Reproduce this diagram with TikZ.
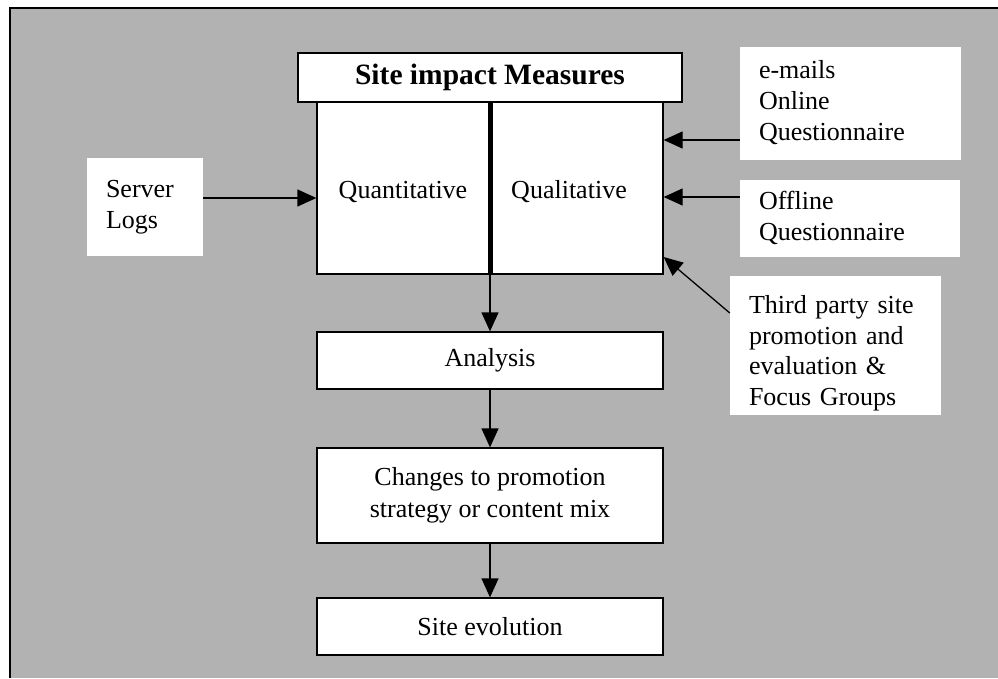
\documentclass[tikz,border=0pt]{standalone}
\usepackage{fontspec}
\setmainfont{Liberation Serif}
\usetikzlibrary{arrows.meta}
\definecolor{bggray}{RGB}{178,178,178}
\begin{document}
\begin{tikzpicture}[x=1pt,y=-1pt,
  box/.style={draw=black, line width=1.3pt, fill=white, inner sep=0pt},
  plain/.style={fill=white, inner sep=0pt},
  txt/.style={font=\fontsize{26}{30.5}\selectfont},
  arr/.style={line width=1.3pt, -{Triangle[length=19pt,width=17pt]}}]
\useasboundingbox (0,0) rectangle (998,678);
\fill[bggray] (10,8) rectangle (998,678);
\draw[line width=2.2pt] (10,678) -- (10,8) -- (998,8);

% central column
\node[box, minimum width=346pt, minimum height=172pt] (main) at (490,188) {};
\node[box, minimum width=384pt, minimum height=49pt,
      font=\bfseries\fontsize{29.5}{34}\selectfont] (title) at (490,77.5) {Site impact Measures};
\draw[line width=5pt] (main.north) -- (main.south);
\node[txt] (quant) at (403,192) {Quantitative};
\node[txt] (qual) at (569,192) {Qualitative};

\node[box, txt, minimum width=346pt, minimum height=57pt] (analysis) at (490,360.5) {Analysis};
\node[box, txt, minimum width=346pt, minimum height=95pt, align=center,
      font=\fontsize{26}{31.5}\selectfont] (changes) at (490,495.5) {Changes to promotion\\strategy or content mix};
\node[box, txt, minimum width=346pt, minimum height=57pt] (evol) at (490,626.5) {Site evolution};

% sources
\node[plain, txt, minimum width=116pt, minimum height=98pt, text width=78pt, align=left]
  (server) at (145,207) {Server\\Logs};
\node[plain, txt, minimum width=221pt, minimum height=113pt, text width=183pt, align=left,
      font=\fontsize{26}{31}\selectfont]
  (emails) at (850.5,103) {e-mails\\Online\\Questionnaire};
\node[plain, txt, minimum width=220pt, minimum height=77pt, text width=182pt, align=left]
  (offline) at (850,218) {Offline\\Questionnaire};
\node[plain, minimum width=211pt, minimum height=139pt] (third) at (835.5,345.5) {};
\begin{scope}
  \clip (third.north west) rectangle (third.south east);
  \node[txt, text width=173pt, align=left, inner sep=0pt] (thirdtxt) at (835.5,353)
    {Third party site\\promotion and\\evaluation \&\\Focus Groups};
\end{scope}

% connectors
\draw[arr] (server.east |- 0,198) -- (main.west |- 0,198);
\draw[arr] (emails.west |- 0,140) -- (main.east |- 0,140);
\draw[arr] (offline.west |- 0,197) -- (main.east |- 0,197);
\draw[arr] (third.west |- 0,313) -- (main.east |- 0,257);
\draw[arr] (main.south) -- (analysis.north);
\draw[arr] (analysis.south) -- (changes.north);
\draw[arr] (changes.south) -- (evol.north);
\end{tikzpicture}
\end{document}
